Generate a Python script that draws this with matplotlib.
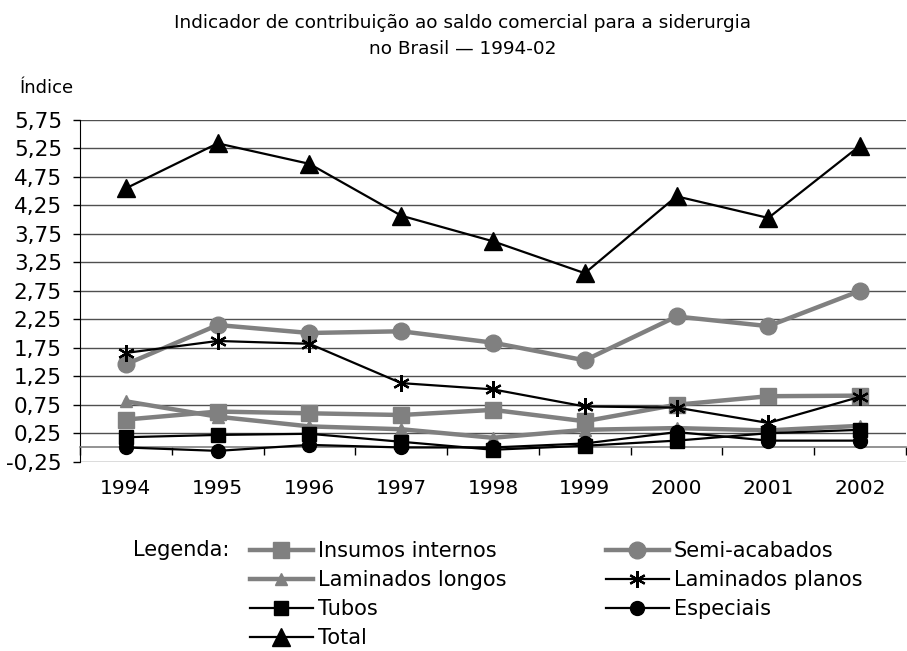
import matplotlib
matplotlib.use("Agg")
import matplotlib.pyplot as plt
from matplotlib.ticker import FixedLocator, FuncFormatter

plt.rcParams['font.family'] = ['DejaVu Sans']

# Data
years = ['1994', '1995', '1996', '1997', '1998', '1999', '2000', '2001', '2002']
insumos_internos = [0.49, 0.63, 0.60, 0.57, 0.66, 0.46, 0.75, 0.90, 0.91]
semi_acabados = [1.46, 2.15, 2.01, 2.04, 1.84, 1.53, 2.30, 2.13, 2.75]
laminados_longos = [0.81, 0.54, 0.37, 0.32, 0.17, 0.31, 0.34, 0.30, 0.38]
laminados_planos = [1.66, 1.87, 1.82, 1.13, 1.02, 0.72, 0.70, 0.43, 0.89]
tubos = [0.18, 0.22, 0.24, 0.10, -0.04, 0.03, 0.12, 0.25, 0.31]
especiais = [0.00, -0.06, 0.045, 0.00, 0.00, 0.07, 0.27, 0.12, 0.12]
total = [4.55, 5.34, 4.98, 4.07, 3.62, 3.06, 4.41, 4.03, 5.30]
y_ticks = [-0.25, 0.25, 0.75, 1.25, 1.75, 2.25, 2.75, 3.25, 3.75, 4.25, 4.75, 5.25, 5.75]

GRAY = '#808080'

fig = plt.figure(figsize=(9.07, 6.51), dpi=100)
ax = fig.add_axes([80 / 907, 1 - 461.7 / 651, 826 / 907, (461.7 - 120) / 651])

x = list(range(len(years)))
series = [
    ('Insumos internos', insumos_internos, dict(color=GRAY, lw=3.2, marker='s', ms=12)),
    ('Semi-acabados', semi_acabados, dict(color=GRAY, lw=3.2, marker='o', ms=12)),
    ('Laminados longos', laminados_longos, dict(color=GRAY, lw=3.2, marker='^', ms=8)),
    ('Laminados planos', laminados_planos, dict(color='black', lw=1.6, marker=(6, 2, 0), ms=12, mew=1.6)),
    ('Tubos', tubos, dict(color='black', lw=1.6, marker='s', ms=10)),
    ('Especiais', especiais, dict(color='black', lw=1.6, marker='o', ms=10)),
    ('Total', total, dict(color='black', lw=1.6, marker='^', ms=13)),
]
handles = {}
for name, vals, style in series:
    line, = ax.plot(x, vals, label=name, zorder=3, **style)
    handles[name] = line

# y axis
ax.set_ylim(-0.25, 5.75)
ax.yaxis.set_major_locator(FixedLocator(y_ticks))
ax.yaxis.set_major_formatter(FuncFormatter(lambda v, p: f'{v:.2f}'.replace('.', ',')))
ax.tick_params(axis='y', length=5, width=1, pad=8, labelsize=15.5, color='black')
ax.yaxis.grid(True, color='#505050', lw=1)
ax.set_axisbelow(True)

# category axis crossing at zero
ax.set_xlim(-0.5, 8.5)
ax.spines['bottom'].set_position(('data', 0))
ax.spines['bottom'].set_color(GRAY)
ax.spines['bottom'].set_linewidth(1.2)
ax.set_xticks(x)
ax.set_xticklabels(years)
ax.set_xticks([i - 0.5 for i in range(len(years) + 1)], minor=True)
ax.tick_params(axis='x', which='major', length=0, pad=23, labelsize=14.5)
ax.tick_params(axis='x', which='minor', length=6, width=1, color='black', direction='out')
ax.spines['top'].set_visible(False)
ax.spines['right'].set_visible(False)
ax.spines['left'].set_color('black')

fig.text(463 / 907, 1 - 36 / 651,
         'Indicador de contribuição ao saldo comercial para a siderurgia\nno Brasil — 1994-02',
         ha='center', va='center', fontsize=13.3, linespacing=1.55)
fig.text(20 / 907, 1 - 88 / 651, 'Índice', ha='left', va='center', fontsize=13)

# legend: column-major order gives the reference's row layout
order = ['Insumos internos', 'Laminados longos', 'Tubos', 'Total',
         'Semi-acabados', 'Laminados planos', 'Especiais']
fig.text(133 / 907, 1 - 550 / 651, 'Legenda:', ha='left', va='center', fontsize=15)
fig.legend([handles[n] for n in order], order, ncol=2, frameon=False,
           loc='upper left', bbox_to_anchor=(250 / 907, 1 - 541 / 651),
           borderpad=0, borderaxespad=0, fontsize=15, handlelength=3.0,
           handletextpad=0.25, labelspacing=0.44, columnspacing=4.8)

fig.savefig('out.png', dpi=100)
